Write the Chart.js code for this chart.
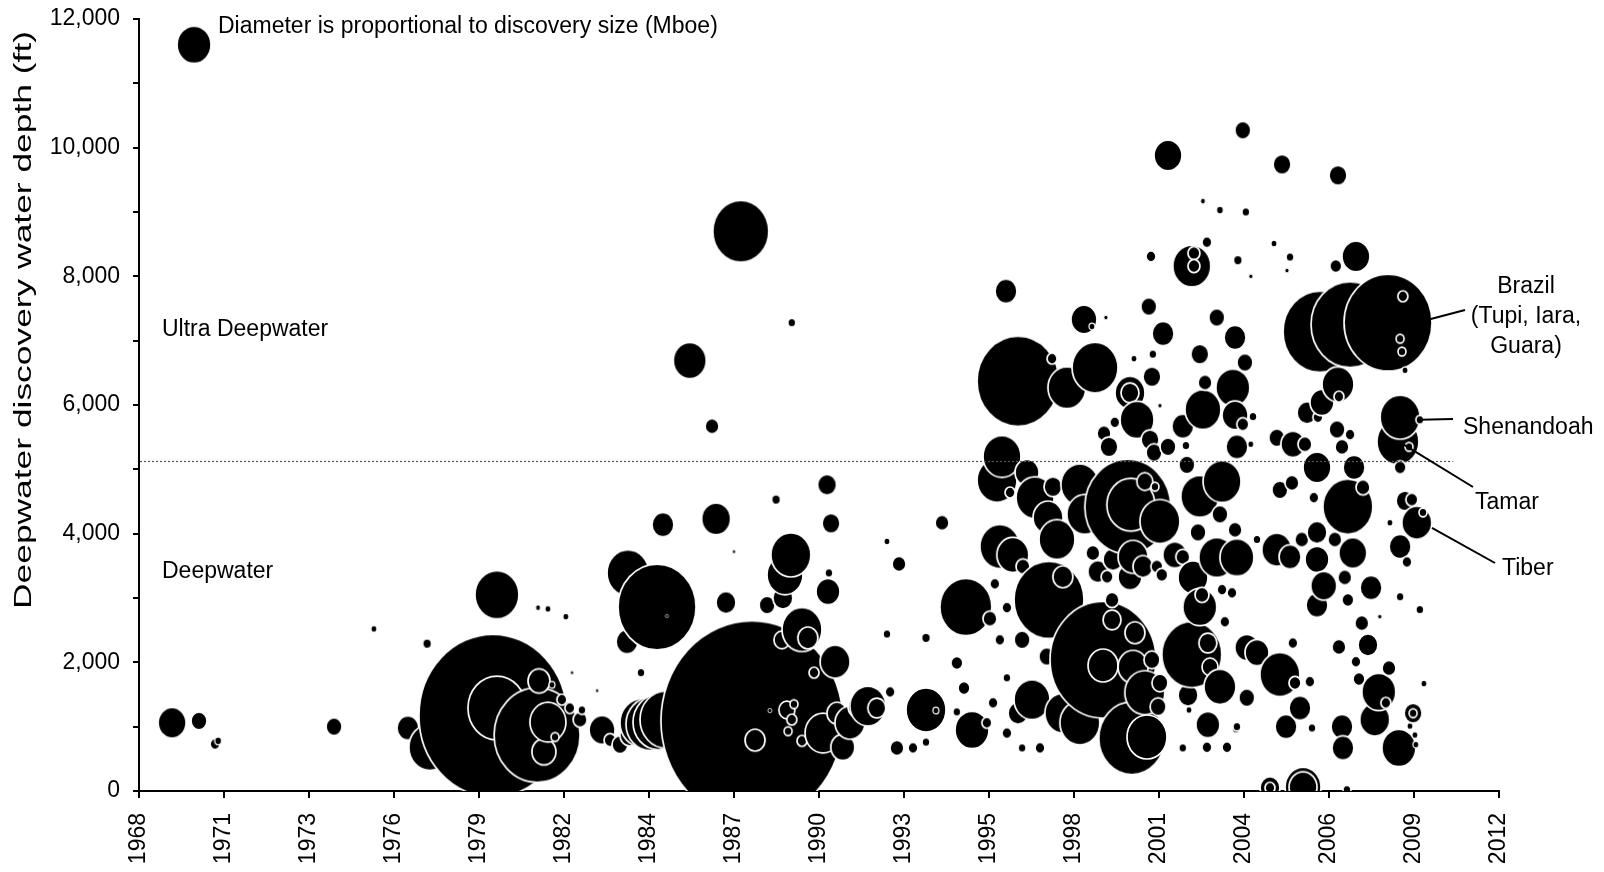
<!DOCTYPE html>
<html>
<head>
<meta charset="utf-8">
<title>Deepwater discoveries</title>
<script src="https://cdn.jsdelivr.net/npm/chart.js@4.4.1/dist/chart.umd.min.js"></script>
<style>
  html, body { margin: 0; padding: 0; background: #ffffff; }
  #wrap { width: 1604px; height: 872px; position: relative; }
</style>
</head>
<body>
<div id="wrap"><canvas id="chart" width="1604" height="872"></canvas></div>
<script>
const FONT = '"Liberation Sans", Arial, Helvetica, sans-serif';

// Axis labelling
const yearTickLabels = [1968, 1971, 1973, 1976, 1979, 1982, 1984, 1987, 1990, 1993, 1995, 1998, 2001, 2004, 2006, 2009, 2012];
const yearAxisStart = 1968.3;
const yearAxisStep = 2.75;
const depthTickLabels = [0, 2000, 4000, 6000, 8000, 10000, 12000];
const depthMinorStep = 1000;

// Boundary between deepwater and ultra deepwater (ft) and where the guide line stops
const ultraDeepwaterDepth = 5130;
const guideLineEndYear = 2010.8;

// Discoveries: [discovery year, water depth (ft), discovery size (Mboe)]
const finds1969to1979 = [
  [1969.37, 1060, 700], [1970.24, 1090, 400], [1970.76, 730, 250], [1970.86, 780, 175],
  [1974.61, 1000, 400], [1975.90, 2520, 150], [1977.62, 2290, 225], [1977.00, 980, 550],
  [1977.71, 680, 1050], [1979.75, 1170, 3700], [1979.88, 1290, 1450], [1979.88, 3050, 1100]
];

const finds1980s = [
  [1981.18, 870, 2150], [1981.24, 1710, 550], [1981.21, 2850, 125], [1981.53, 2830, 150],
  [1981.53, 1070, 900], [1981.40, 610, 600], [1981.66, 1650, 150], [1981.76, 840, 200],
  [1981.98, 1420, 250], [1982.11, 2710, 150], [1982.24, 1290, 250], [1982.31, 1840, 75],
  [1982.57, 1110, 350], [1982.63, 1260, 200], [1983.12, 1560, 75], [1983.28, 950, 650],
  [1983.54, 790, 300], [1983.86, 720, 400], [1984.18, 870, 500], [1984.12, 3390, 1050],
  [1984.09, 2320, 550], [1984.54, 1840, 200], [1984.57, 1060, 1100], [1984.83, 1040, 1200],
  [1985.06, 2860, 1950], [1985.09, 1070, 1250], [1985.25, 4140, 550], [1985.35, 1110, 1300],
  [1985.38, 2720, 75], [1986.12, 6690, 825], [1986.84, 5670, 350], [1986.97, 4230, 725],
  [1987.29, 2930, 500], [1987.55, 3720, 75], [1987.77, 8700, 1400], [1988.13, 1090, 4550],
  [1988.23, 790, 500], [1988.62, 2890, 400], [1988.71, 1250, 100], [1988.91, 4530, 225],
  [1989.13, 3000, 500], [1989.20, 3360, 900], [1989.10, 2350, 400], [1989.26, 1260, 400],
  [1989.30, 930, 200], [1989.39, 3670, 1000], [1989.42, 1110, 250], [1989.42, 7280, 200],
  [1989.49, 1350, 200], [1989.75, 2510, 1000], [1989.75, 780, 250], [1989.94, 2380, 500]
];

const finds1990s = [
  [1990.14, 1840, 250], [1990.43, 900, 900], [1990.56, 4760, 475], [1990.59, 3100, 600],
  [1990.62, 3390, 200], [1990.69, 4160, 450], [1990.82, 2010, 750], [1990.88, 1210, 500],
  [1991.07, 680, 600], [1991.30, 1060, 750], [1991.56, 1310, 500], [1991.88, 1320, 900],
  [1992.17, 1290, 450], [1992.50, 3880, 150], [1992.50, 2440, 200], [1992.60, 1540, 250],
  [1992.89, 3530, 350], [1992.82, 670, 350], [1993.34, 670, 250], [1993.76, 2380, 225],
  [1993.76, 1260, 1000], [1994.08, 1250, 150], [1993.76, 760, 200], [1994.28, 4170, 350],
  [1994.76, 1990, 300], [1994.76, 1230, 200], [1994.99, 1600, 300], [1995.05, 2860, 1300],
  [1995.25, 950, 850], [1995.73, 1060, 250], [1995.83, 2680, 350], [1995.93, 1370, 250],
  [1995.99, 3220, 250], [1996.06, 4830, 1000], [1996.22, 5200, 950], [1996.15, 3800, 1000],
  [1996.38, 2850, 250], [1996.15, 2350, 250], [1996.35, 7770, 550], [1996.38, 900, 250],
  [1996.38, 1760, 200], [1996.48, 4640, 250], [1996.57, 3670, 800], [1996.74, 6370, 2050],
  [1996.74, 1210, 500], [1996.87, 2350, 400], [1996.87, 670, 200], [1996.90, 3490, 350],
  [1997.03, 4950, 600], [1997.19, 1420, 900], [1997.29, 4560, 950], [1997.45, 670, 250],
  [1997.67, 2090, 400], [1997.71, 4250, 750], [1997.74, 2970, 1750], [1997.84, 6720, 250],
  [1997.87, 4730, 450], [1998.00, 3910, 900], [1998.19, 3330, 500], [1998.19, 1210, 900],
  [1998.32, 6270, 950], [1998.74, 4760, 950], [1998.74, 1060, 1000], [1998.90, 4300, 900],
  [1998.87, 7330, 650], [1999.13, 7220, 150], [1999.16, 3700, 350], [1999.23, 6580, 1150],
  [1999.32, 3410, 500], [1999.49, 2040, 2650], [1999.49, 1950, 750], [1999.52, 5560, 350],
  [1999.58, 7360, 100], [1999.62, 3330, 300], [1999.68, 5350, 450], [1999.78, 2970, 350],
  [1999.78, 2660, 450], [1999.81, 3600, 500], [1999.87, 5730, 250]
];

const finds2000to2004 = [
  [2000.29, 4420, 2150], [2000.39, 4450, 1200], [2000.33, 4420, 350], [2000.36, 6190, 750],
  [2000.36, 6190, 450], [2000.36, 3330, 600], [2000.42, 820, 1650], [2000.46, 3640, 750],
  [2000.46, 1930, 750], [2000.49, 6720, 150], [2000.52, 2460, 500], [2000.59, 5770, 850],
  [2000.78, 3490, 500], [2000.84, 4810, 400], [2000.84, 1530, 1000], [2000.91, 840, 1000],
  [2000.97, 7530, 400], [2001.01, 5460, 450], [2001.04, 8310, 250], [2001.07, 6440, 450],
  [2001.07, 2040, 400], [2001.10, 6790, 200], [2001.14, 5260, 400], [2001.17, 4730, 200],
  [2001.23, 3490, 300], [2001.27, 1310, 400], [2001.33, 5990, 100], [2001.33, 1680, 400],
  [2001.33, 4190, 1000], [2001.39, 3360, 300], [2001.43, 7110, 550], [2001.59, 9880, 700],
  [2001.59, 5350, 400], [2001.81, 3670, 600], [2002.07, 3640, 350], [2002.07, 5670, 550],
  [2002.07, 670, 200], [2002.17, 5370, 200], [2002.20, 5070, 400], [2002.24, 1490, 500],
  [2002.27, 1260, 150], [2002.36, 8160, 950], [2002.43, 8360, 300], [2002.43, 8160, 300],
  [2002.36, 2120, 1500], [2002.40, 3320, 750], [2002.56, 4020, 400], [2002.62, 6790, 450],
  [2002.62, 4580, 950], [2002.62, 2860, 850], [2002.69, 3050, 350], [2002.69, 1030, 350],
  [2002.72, 9170, 125], [2002.72, 5930, 900], [2002.79, 6350, 350], [2002.85, 8530, 250],
  [2002.85, 680, 250], [2002.88, 2300, 450], [2002.88, 1030, 600], [2002.95, 1930, 400],
  [2003.17, 7360, 400], [2003.17, 3630, 900], [2003.27, 9030, 175], [2003.27, 4300, 400],
  [2003.27, 1620, 800], [2003.34, 4810, 950], [2003.34, 3130, 250], [2003.43, 2630, 250],
  [2003.50, 680, 250], [2003.66, 3080, 250], [2003.69, 6270, 850], [2003.76, 7050, 550],
  [2003.76, 5840, 650], [2004.01, 5700, 300], [2003.76, 4060, 350], [2003.79, 960, 175],
  [2003.82, 5350, 550], [2003.82, 3630, 850], [2003.82, 1000, 200], [2003.85, 8250, 225],
  [2004.01, 10270, 400], [2004.08, 6660, 400], [2004.11, 9000, 200], [2004.14, 2230, 600],
  [2004.47, 2150, 600], [2004.14, 1450, 400], [2004.27, 8000, 100], [2004.27, 5390, 150],
  [2004.34, 5820, 200], [2004.47, 3910, 200]
];

const finds2005to2009 = [
  [2004.89, 50, 500], [2004.89, 50, 250], [2005.02, 8510, 150], [2005.11, 5490, 400],
  [2005.11, 3750, 750], [2005.21, 1810, 1000], [2005.21, 4680, 400], [2005.28, 9740, 450],
  [2005.41, 1000, 550], [2005.44, 8090, 100], [2005.54, 8300, 200], [2005.54, 3640, 550],
  [2005.60, 4790, 350], [2005.63, 5390, 600], [2005.63, 2300, 250], [2005.70, 1680, 300],
  [2005.86, 1290, 550], [2005.92, 3910, 350], [2005.96, 60, 900], [2005.96, 60, 700],
  [2006.02, 5390, 350], [2006.09, 5880, 500], [2006.18, 1700, 250], [2006.25, 980, 200],
  [2006.31, 4560, 250], [2006.41, 5030, 700], [2006.41, 4020, 500], [2006.41, 3600, 600],
  [2006.41, 2890, 550], [2006.44, 5810, 250], [2006.51, 7140, 1850], [2006.57, 6040, 600],
  [2006.63, 3190, 650], [2006.99, 3910, 350], [2007.02, 8160, 300], [2007.06, 5620, 400],
  [2007.09, 9570, 450], [2007.09, 6320, 800], [2007.12, 6130, 250], [2007.12, 2240, 350],
  [2007.22, 5350, 350], [2007.22, 1000, 550], [2007.25, 670, 550], [2007.31, 3320, 350],
  [2007.38, 20, 200], [2007.41, 4420, 1250], [2007.41, 2970, 300], [2007.48, 7250, 1950],
  [2007.48, 5540, 250], [2007.57, 3700, 700], [2007.61, 5030, 550], [2007.67, 8310, 700],
  [2007.67, 2010, 250], [2007.77, 1740, 300], [2007.86, 2610, 350], [2007.90, 4720, 350],
  [2008.06, 2270, 500], [2008.16, 3160, 550], [2008.28, 1110, 750], [2008.41, 1540, 850],
  [2008.44, 2710, 100], [2008.64, 1370, 250], [2008.71, 7280, 2200], [2008.74, 1910, 350],
  [2008.77, 4170, 150], [2009.03, 5430, 1050], [2009.06, 670, 850], [2009.10, 5810, 1000],
  [2009.10, 5030, 300], [2009.10, 3800, 550], [2009.10, 3020, 200], [2009.19, 7690, 250],
  [2009.10, 7030, 200], [2009.16, 6830, 200], [2009.26, 6540, 150], [2009.26, 4510, 450],
  [2009.32, 3560, 250], [2009.39, 5350, 200], [2009.48, 4530, 300], [2009.52, 1210, 450],
  [2009.52, 1210, 200], [2009.64, 4170, 750], [2009.74, 5770, 200], [2009.74, 2820, 200],
  [2009.84, 4330, 200], [2009.87, 1670, 150], [2009.42, 1010, 150], [2009.58, 870, 150],
  [2009.61, 720, 150]
];

// Size key shown beside its caption
const sizeKey = [[1970.08, 11600, 850]];

// Named fields with leader lines: label lines plus the point the leader starts from
const namedFields = [
  { lines: ['Brazil', '(Tupi, Iara,', 'Guara)'], year: 2010.03, depth: 7330 },
  { lines: ['Shenandoah'], year: 2009.74, depth: 5770 },
  { lines: ['Tamar'], year: 2009.10, depth: 5420 },
  { lines: ['Tiber'], year: 2010.13, depth: 4090 }
];

// ---- rendering ----
const MBOE_PER_RADIUS_PX = 50;   // diameter proportional to discovery size
const BUBBLE_ASPECT = 1.1;       // bubbles are drawn slightly taller than wide

const spriteCache = new Map();
function bubbleSprite(r) {
  const key = r.toFixed(2);
  if (spriteCache.has(key)) return spriteCache.get(key);
  const rx = r, ry = r * BUBBLE_ASPECT, pad = 2;
  const w = Math.ceil(2 * rx + 2 * pad), h = Math.ceil(2 * ry + 2 * pad);
  const c = document.createElement('canvas');
  c.width = w; c.height = h;
  const g = c.getContext('2d');
  g.beginPath();
  g.ellipse(w / 2, h / 2, rx, ry, 0, 0, Math.PI * 2);
  g.fillStyle = '#000000';
  g.fill();
  g.lineWidth = Math.min(1.7, r * 0.4);
  g.strokeStyle = '#ffffff';
  g.stroke();
  spriteCache.set(key, c);
  return c;
}

const toBubble = d => ({ x: d[0], y: d[1], r: d[2] / MBOE_PER_RADIUS_PX });
const discoveries = [...finds1969to1979, ...finds1980s, ...finds1990s, ...finds2000to2004, ...finds2005to2009]
  .map((d, i) => ({ d, i }))
  .sort((a, b) => (a.d[0] - b.d[0]) || (a.i - b.i))
  .map(o => toBubble(o.d));

const yearAxisEnd = yearAxisStart + yearAxisStep * (yearTickLabels.length - 1);

const annotationPlugin = {
  id: 'depthAnnotations',
  afterDatasetsDraw(chart) {
    const { ctx, chartArea, scales } = chart;
    const xs = scales.x, ys = scales.y;
    ctx.save();

    // ultra deepwater boundary
    const yLim = Math.round(ys.getPixelForValue(ultraDeepwaterDepth)) + 0.5;
    ctx.strokeStyle = '#555555';
    ctx.lineWidth = 1.2;
    ctx.setLineDash([2, 2]);
    ctx.beginPath();
    ctx.moveTo(chartArea.left + 1, yLim);
    ctx.lineTo(xs.getPixelForValue(guideLineEndYear), yLim);
    ctx.stroke();
    ctx.setLineDash([]);

    ctx.fillStyle = '#000000';
    ctx.font = '23px ' + FONT;
    ctx.textBaseline = 'alphabetic';
    ctx.textAlign = 'left';
    ctx.fillText('Diameter is proportional to discovery size (Mboe)', 218, 33);
    ctx.fillText('Ultra Deepwater', 162, 336);
    ctx.fillText('Deepwater', 162, 578);

    // named fields
    ctx.strokeStyle = '#000000';
    ctx.lineWidth = 2;
    const leaderEnds = [[1465, 310], [1453, 419], [1473, 487], [1495, 563]];
    namedFields.forEach((f, k) => {
      const ax = xs.getPixelForValue(f.year), ay = ys.getPixelForValue(f.depth);
      ctx.beginPath();
      ctx.moveTo(ax, ay);
      ctx.lineTo(leaderEnds[k][0], leaderEnds[k][1]);
      ctx.stroke();
    });
    ctx.textAlign = 'center';
    namedFields[0].lines.forEach((t, i) => ctx.fillText(t, 1526, 293 + i * 30));
    ctx.textAlign = 'left';
    ctx.fillText(namedFields[1].lines[0], 1463, 434);
    ctx.fillText(namedFields[2].lines[0], 1475, 509);
    ctx.fillText(namedFields[3].lines[0], 1502, 575);

    // axis title, set along the axis from y=609 up to y=31
    const title = 'Deepwater discovery water depth (ft)';
    const titleSpan = 578;
    ctx.save();
    ctx.translate(31, 320);
    ctx.rotate(-Math.PI / 2);
    ctx.scale(titleSpan / ctx.measureText(title).width, 1);
    ctx.textAlign = 'center';
    ctx.fillText(title, 0, 0);
    ctx.restore();

    ctx.restore();
  }
};

const bubbleStyle = {
  pointStyle: c => bubbleSprite(c.raw.r),
  clip: 0
};

new Chart(document.getElementById('chart'), {
  type: 'bubble',
  data: {
    datasets: [
      Object.assign({ label: 'Discoveries', data: discoveries }, bubbleStyle),
      Object.assign({ label: 'Size key', data: sizeKey.map(toBubble) }, bubbleStyle)
    ]
  },
  options: {
    responsive: false,
    animation: false,
    events: [],
    layout: { autoPadding: false, padding: { top: 19, right: 105, bottom: 0, left: 0 } },
    plugins: { legend: { display: false }, tooltip: { enabled: false } },
    scales: {
      x: {
        type: 'linear',
        min: yearAxisStart,
        max: yearAxisEnd,
        afterBuildTicks: s => { s.ticks = yearTickLabels.map((_, i) => ({ value: yearAxisStart + i * yearAxisStep })); },
        afterFit: s => { s.height = 81; s.paddingLeft = 0; s.paddingRight = 0; },
        ticks: {
          autoSkip: false,
          minRotation: 90,
          maxRotation: 90,
          padding: 15,
          color: '#000000',
          font: { family: FONT, size: 23 },
          callback: (v, i) => String(yearTickLabels[i])
        },
        grid: { drawOnChartArea: false, drawTicks: true, tickLength: 7, color: '#000000', lineWidth: 2 },
        border: { display: true, color: '#000000', width: 2 }
      },
      y: {
        type: 'linear',
        min: depthTickLabels[0],
        max: depthTickLabels[depthTickLabels.length - 1],
        afterBuildTicks: s => {
          const t = [];
          for (let v = s.min; v <= s.max; v += depthMinorStep) t.push({ value: v });
          s.ticks = t;
        },
        afterFit: s => { s.width = 139; s.paddingTop = 0; s.paddingBottom = 0; },
        ticks: {
          padding: 13,
          color: '#000000',
          font: { family: FONT, size: 23 },
          callback: v => depthTickLabels.includes(v) ? v.toLocaleString('en-US') : ''
        },
        grid: { drawOnChartArea: false, drawTicks: true, tickLength: 6, color: '#000000', lineWidth: 2 },
        border: { display: true, color: '#000000', width: 2 }
      }
    }
  },
  plugins: [annotationPlugin]
});
</script>
</body>
</html>
